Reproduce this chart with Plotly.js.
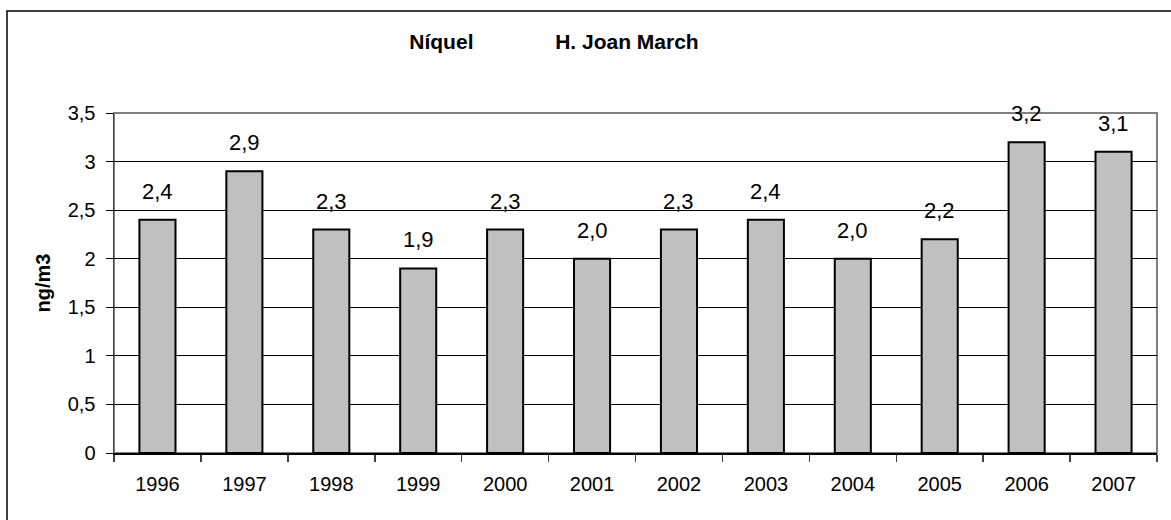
<!DOCTYPE html>
<html>
<head>
<meta charset="utf-8">
<script src="https://cdn.plot.ly/plotly-3.0.1.min.js"></script>
<style>html,body{margin:0;padding:0;background:#fff;}#chart{width:1171px;height:520px;}</style>
</head>
<body>
<div id="chart"></div>
<script>
const years = ['1996','1997','1998','1999','2000','2001','2002','2003','2004','2005','2006','2007'];
const values = [2.4, 2.9, 2.3, 1.9, 2.3, 2.0, 2.3, 2.4, 2.0, 2.2, 3.2, 3.1];
const yTicks = [0, 0.5, 1, 1.5, 2, 2.5, 3, 3.5];
const titleLeft = 'Níquel';
const titleRight = 'H. Joan March';
const yTitle = 'ng/m3';

const FONT = '"Liberation Sans", Arial, sans-serif';

const trace = {
  type: 'bar',
  x: years,
  y: values,
  marker: {color: '#c0c0c0', line: {color: '#000000', width: 2}},
  hoverinfo: 'x+y'
};

// annotations on a category axis: use the category index
const labels = years.map((yr, i) => ({
  x: i, y: values[i], xref: 'x', yref: 'y',
  text: values[i].toFixed(1).replace('.', ','),
  showarrow: false, yanchor: 'bottom', yshift: 14,
  font: {family: FONT, size: 22, color: '#000'}
}));

const nb = '&nbsp;'.repeat(14);

const layout = {
  width: 1171, height: 520,
  margin: {l: 114, r: 14, t: 113, b: 67, pad: 0},
  paper_bgcolor: '#ffffff', plot_bgcolor: '#ffffff',
  separators: ',.',
  showlegend: false,
  bargap: 0.585,
  font: {family: FONT, color: '#000'},
  title: {
    text: '<b>' + titleLeft + nb + titleRight + '</b>',
    x: 554 / 1171, xanchor: 'center', xref: 'container',
    y: 1 - 42 / 520, yanchor: 'middle', yref: 'container',
    font: {family: FONT, size: 21, color: '#000'}
  },
  xaxis: {
    type: 'category',
    range: [-0.5, years.length - 0.5],
    autorange: false,
    showgrid: false,
    showline: true, linecolor: '#000', linewidth: 1.5,
    ticks: 'outside', ticklen: 7, tickcolor: '#404040', tickwidth: 1.5,
    tickson: 'boundaries',
    tickangle: 0,
    ticklabelstandoff: 12,
    tickfont: {family: FONT, size: 20, color: '#000'},
    zeroline: false, fixedrange: true
  },
  yaxis: {
    range: [0, 3.5],
    autorange: false,
    tickvals: yTicks,
    tickformat: '.1~f',
    showgrid: true, gridcolor: '#000', gridwidth: 1,
    showline: true, linecolor: '#404040', linewidth: 1.5,
    ticks: 'outside', ticklen: 7, tickcolor: '#000', tickwidth: 1,
    ticklabelstandoff: 6,
    tickfont: {family: FONT, size: 20, color: '#000'},
    zeroline: false, fixedrange: true,
    title: {text: '<b>' + yTitle + '</b>', font: {family: FONT, size: 20, color: '#000'}, standoff: 11}
  },
  shapes: [
    {type: 'rect', xref: 'paper', yref: 'paper', x0: 0, x1: 1, y0: 0, y1: 1,
     line: {color: '#808080', width: 2}, fillcolor: 'rgba(0,0,0,0)', layer: 'below'},
    {type: 'rect', xref: 'paper', yref: 'paper', x0: (7 - 114) / 1043, x1: 1.05, y0: -0.3, y1: (453 - 11) / 340,
     line: {color: '#000', width: 1.5}, fillcolor: 'rgba(0,0,0,0)', layer: 'above'}
  ],
  annotations: labels
};

Plotly.newPlot('chart', [trace], layout, {displayModeBar: false, staticPlot: true});
</script>
</body>
</html>
